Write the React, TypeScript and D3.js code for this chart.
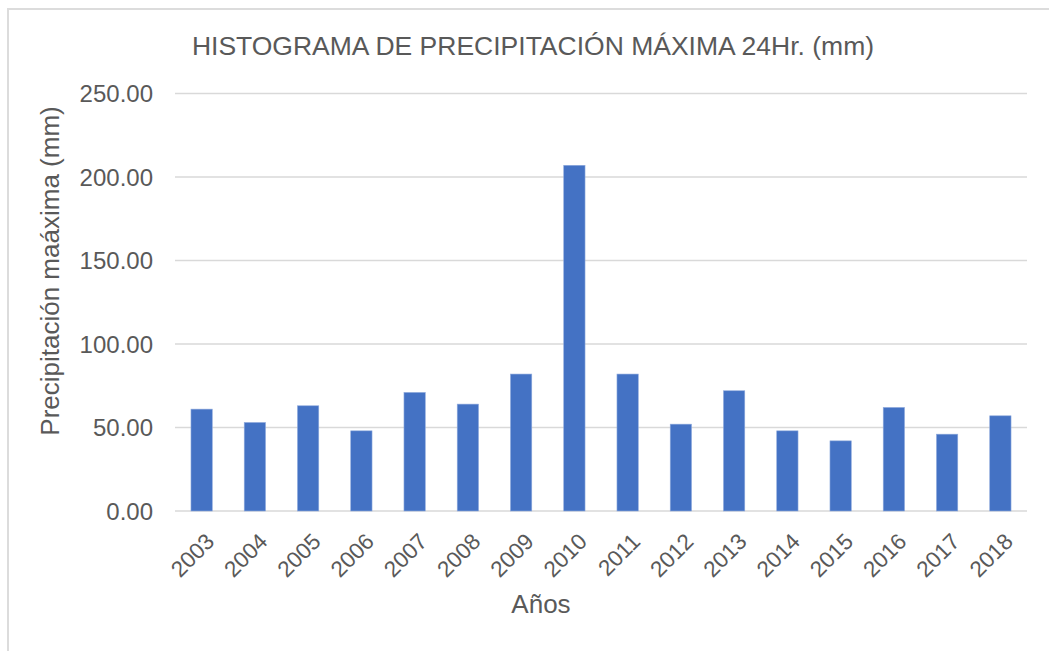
import React from "react";
import * as d3 from "d3";

const years = ["2003","2004","2005","2006","2007","2008","2009","2010","2011","2012","2013","2014","2015","2016","2017","2018"];
const precipitation = [61, 53, 63, 48, 71, 64, 82, 207, 82, 52, 72, 48, 42, 62, 46, 57];
const yTicks = [0, 50, 100, 150, 200, 250];
const title = "HISTOGRAMA DE PRECIPITACIÓN MÁXIMA 24Hr. (mm)";
const yTitle = "Precipitación maáxima (mm)";
const xTitle = "Años";

const W = 1049;
const H = 651;
const plot = { left: 175, right: 1027, top: 93.5, bottom: 511 };
const font = "Arial, 'Liberation Sans', sans-serif";
const textColor = "#595959";
const gridColor = "#d9d9d9";

export default function App() {
  const x = d3.scaleBand<string>().domain(years).range([plot.left, plot.right]).paddingInner(0.6).paddingOuter(0.3);
  const y = d3.scaleLinear().domain([0, 250]).range([plot.bottom, plot.top]);
  const fmt = d3.format(".2f");
  return (
    <svg width={W} height={H} style={{ position: "absolute", left: 0, top: 0, background: "#fff" }}>
      <rect x={8} y={9} width={1200} height={800} fill="#fff" stroke="#dcdcdc" strokeWidth={2} />
      <text x={533} y={55} textAnchor="middle" fontFamily={font} fontSize={26.5} fill={textColor}>{title}</text>
      {yTicks.map((t) => (
        <g key={t}>
          <line x1={plot.left} x2={plot.right} y1={y(t)} y2={y(t)} stroke={gridColor} strokeWidth={1.5} />
          <text x={153} y={y(t)} dy="0.36em" textAnchor="end" fontFamily={font} fontSize={24} fill={textColor}>{fmt(t)}</text>
        </g>
      ))}
      {precipitation.map((v, i) => (
        <rect key={years[i]} x={x(years[i])} y={y(v)} width={x.bandwidth()} height={y(0) - y(v)} fill="#4472C4" stroke="#8faadc" strokeWidth={0.6} />
      ))}
      {years.map((yr) => {
        const cx = (x(yr) as number) + x.bandwidth() / 2;
        return (
          <text key={yr} transform={`translate(${cx + 14},${543}) rotate(-45)`} textAnchor="end" fontFamily={font} fontSize={22.5} fill={textColor}>{yr}</text>
        );
      })}
      <text x={541} y={613} textAnchor="middle" fontFamily={font} fontSize={26} fill={textColor}>{xTitle}</text>
      <text transform={`translate(59,271) rotate(-90)`} textAnchor="middle" fontFamily={font} fontSize={26} fill={textColor}>{yTitle}</text>
    </svg>
  );
}
